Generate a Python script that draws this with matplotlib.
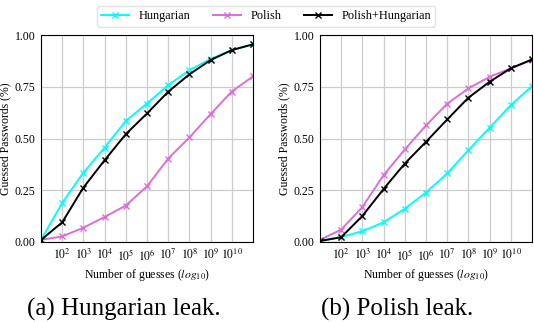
import matplotlib
matplotlib.use("Agg")
import matplotlib.pyplot as plt

plt.rcParams['font.family'] = ['Liberation Serif', 'DejaVu Serif']
plt.rcParams['mathtext.fontset'] = 'stix'

# log10 of number of guesses
guesses = [1, 2, 3, 4, 5, 6, 7, 8, 9, 10, 11]
tick_pos = [2, 3, 4, 5, 6, 7, 8, 9, 10]
tick_labels = ['$10^{%d}$' % p for p in tick_pos]

# (a) Hungarian leak
hu_hungarian = [0.01, 0.189, 0.335, 0.456, 0.585, 0.669, 0.758, 0.83, 0.884, 0.927, 0.955]
hu_polish = [0.01, 0.027, 0.069, 0.121, 0.176, 0.269, 0.403, 0.505, 0.618, 0.727, 0.80]
hu_both = [0.01, 0.095, 0.263, 0.395, 0.521, 0.621, 0.726, 0.81, 0.879, 0.927, 0.955]

# (b) Polish leak
pl_hungarian = [0.005, 0.024, 0.052, 0.095, 0.161, 0.239, 0.331, 0.444, 0.552, 0.661, 0.753]
pl_polish = [0.01, 0.06, 0.169, 0.323, 0.447, 0.563, 0.668, 0.742, 0.798, 0.839, 0.879]
pl_both = [0.005, 0.023, 0.126, 0.256, 0.379, 0.484, 0.592, 0.697, 0.774, 0.839, 0.882]

W, H = 534, 322
fig = plt.figure(figsize=(W / 100, H / 100), dpi=100)


def make_axes(left, caption, cap_x, hun, pol, both):
    ax = fig.add_axes([left / W, 1 - 242 / H, 212 / W, 207 / H])
    ax.plot(guesses, hun, color='cyan', marker='x', markersize=5, lw=1.4, label='Hungarian')
    ax.plot(guesses, pol, color='orchid', marker='x', markersize=5, lw=1.4, label='Polish')
    ax.plot(guesses, both, color='black', marker='x', markersize=5, lw=1.4, label='Polish+Hungarian')
    ax.set_xlim(1, 11)
    ax.set_ylim(0, 1)
    ax.set_xticks(tick_pos)
    ax.set_xticklabels(tick_labels)
    ax.set_yticks([0, 0.25, 0.5, 0.75, 1.0])
    ax.set_yticklabels(['0.00', '0.25', '0.50', '0.75', '1.00'])
    ax.tick_params(labelsize=8.5, length=0, pad=4)
    ax.grid(color='#cccccc', lw=0.9)
    ax.set_axisbelow(True)
    ax.set_xlabel('Number of guesses ($log_{10}$)', fontsize=8.5, labelpad=3)
    ax.set_ylabel('Guessed Passwords (%)', fontsize=8.5, labelpad=2)
    fig.text(cap_x / W, 1 - 309 / H, caption, fontsize=18, ha='center', va='center')
    return ax


ax1 = make_axes(41, '(a) Hungarian leak.', 124, hu_hungarian, hu_polish, hu_both)
ax2 = make_axes(320, '(b) Polish leak.', 397, pl_hungarian, pl_polish, pl_both)

handles, labels = ax1.get_legend_handles_labels()
fig.legend(handles, labels, loc='upper center', bbox_to_anchor=(266 / W, 1.0),
           ncol=3, fontsize=8.8, frameon=True, edgecolor='#dddddd',
           handlelength=2.3, columnspacing=1.8, borderpad=0.35, handletextpad=0.8)

fig.savefig('out.png', dpi=100)
